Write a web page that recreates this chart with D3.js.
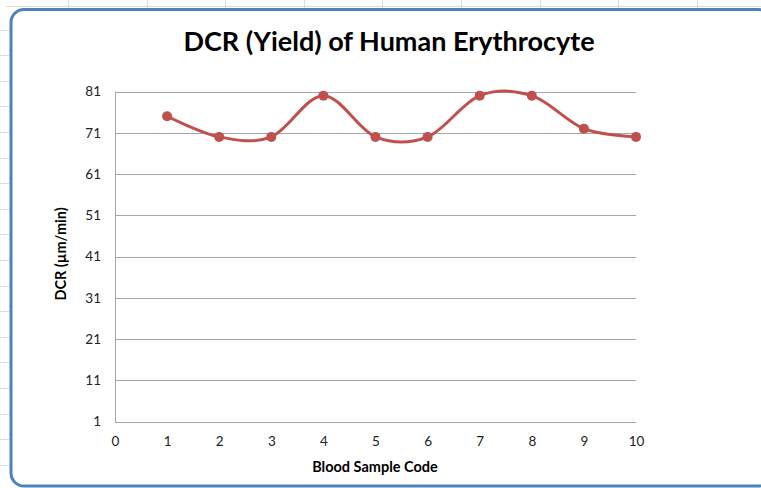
<!DOCTYPE html>
<html><head><meta charset="utf-8">
<script src="https://cdn.jsdelivr.net/npm/d3@7"></script>
<style>body{margin:0;background:#fff;}svg{display:block;}</style>
</head><body>
<svg id="c" width="761" height="488"></svg>
<script>
const sampleCodes = [1,2,3,4,5,6,7,8,9,10];
const dcrValues = [75,70,70,80,70,70,80,80,72,70];
const xTicks = [0,1,2,3,4,5,6,7,8,9,10];
const yTicks = [1,11,21,31,41,51,61,71,81];
const titleText = "DCR (Yield) of Human Erythrocyte";
const xTitle = "Blood Sample Code";
const yTitle = "DCR (µm/min)";

const svg = d3.select("#c");
const W = 761, H = 488;
const font = "Lato, 'Open Sans', sans-serif";

// faint spreadsheet background grid marks
const bg = svg.append("g").attr("stroke", "#dcdcdc").attr("stroke-width", 1);
bg.append("line").attr("x1", 6).attr("x2", W).attr("y1", 6.5).attr("y2", 6.5);
d3.range(68, W, 78.6).forEach(x => bg.append("line").attr("x1", Math.round(x)+0.5).attr("x2", Math.round(x)+0.5).attr("y1", 0).attr("y2", 8));
d3.range(29.5, H, 25.6).forEach(y => bg.append("line").attr("x1", 0).attr("x2", 9).attr("y1", Math.round(y)+0.5).attr("y2", Math.round(y)+0.5));

// chart frame
svg.append("rect").attr("x", 11).attr("y", 9.5).attr("width", 760).attr("height", 476.5)
  .attr("rx", 13).attr("fill", "#fff").attr("stroke", "#4f81bd").attr("stroke-width", 3);

const m = {l: 115, r: 636, t: 91.5, b: 421.5};
const x = d3.scaleLinear().domain([0, 10]).range([m.l, m.r]);
const y = d3.scaleLinear().domain([1, 81]).range([m.b, m.t]);

// gridlines
const grid = svg.append("g").attr("stroke", "#a6a6a6").attr("stroke-width", 1);
yTicks.forEach(t => grid.append("line").attr("x1", m.l).attr("x2", m.r)
  .attr("y1", Math.round(y(t))+0.5).attr("y2", Math.round(y(t))+0.5));
grid.append("line").attr("x1", m.l+0.5).attr("x2", m.l+0.5).attr("y1", m.t).attr("y2", m.b+1);

// y axis labels
const ya = svg.append("g").attr("transform", `translate(${m.l},0)`)
  .call(d3.axisLeft(y).tickValues(yTicks).tickSize(0).tickPadding(14));
ya.select(".domain").remove();
ya.selectAll("text").attr("font-family", font).attr("font-size", 13.5).attr("fill", "#222");

// x axis labels
const xa = svg.append("g").attr("transform", `translate(0,${m.b})`)
  .call(d3.axisBottom(x).tickValues(xTicks).tickSize(0).tickPadding(15));
xa.select(".domain").remove();
xa.selectAll("text").attr("font-family", font).attr("font-size", 13.5).attr("fill", "#222");

// titles
svg.append("text").attr("x", 389).attr("y", 51).attr("text-anchor", "middle")
  .attr("font-family", font).attr("font-weight", "bold").attr("font-size", 27).attr("fill", "#000")
  .text(titleText);
svg.append("text").attr("x", 375).attr("y", 472).attr("text-anchor", "middle")
  .attr("font-family", font).attr("font-weight", "bold").attr("font-size", 14.5).attr("fill", "#000")
  .text(xTitle);
svg.append("text").attr("transform", "translate(66,254) rotate(-90)").attr("text-anchor", "middle")
  .attr("font-family", font).attr("font-weight", "bold").attr("font-size", 14.5).attr("fill", "#000")
  .text(yTitle);

// series
const data = sampleCodes.map((c, i) => ({c, v: dcrValues[i]}));
const line = d3.line().x(d => x(d.c)).y(d => y(d.v)).curve(d3.curveCardinal.tension(0));
svg.append("path").datum(data).attr("d", line).attr("fill", "none")
  .attr("stroke", "#c0504d").attr("stroke-width", 3);
svg.append("g").selectAll("circle").data(data).join("circle")
  .attr("cx", d => x(d.c)).attr("cy", d => y(d.v)).attr("r", 5).attr("fill", "#c0504d");
</script>
</body></html>
